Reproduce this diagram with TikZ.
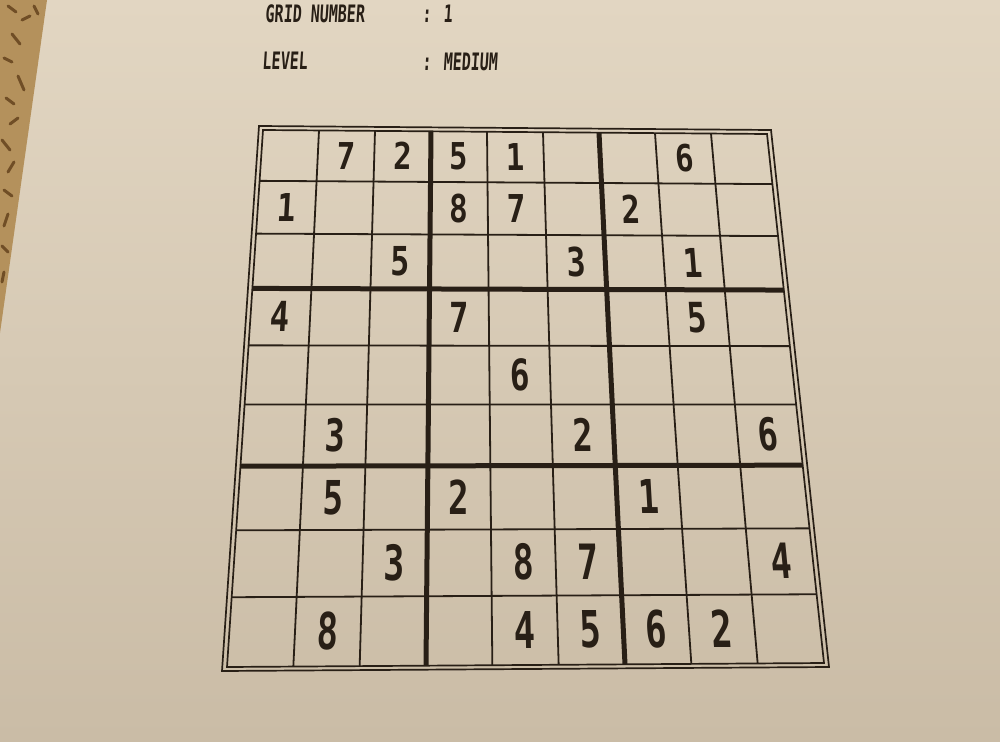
\documentclass[tikz,border=0pt]{standalone}
\usepackage{fontspec}
\usetikzlibrary{calc, math}
\newfontfamily\printfont{DejaVu Sans Mono}
\definecolor{paper}{RGB}{226,214,194}
\definecolor{paperdark}{RGB}{202,188,166}
\definecolor{ink}{RGB}{40,31,22}
\definecolor{carpet}{RGB}{180,145,92}
\definecolor{carpetdark}{RGB}{112,78,38}
\tikzset{
gridline/.style={draw=ink, line width=1.8pt},
blockline/.style={draw=ink, line width=5pt},
border/.style={draw=ink, line width=1.7pt},
digit/.style={text=ink, inner sep=0pt, font=\printfont\bfseries\fontsize{37}{37}\selectfont},
header/.style={text=ink, inner sep=0pt, anchor=base west, font=\printfont\bfseries\fontsize{15}{15}\selectfont, yscale=1.6, xslant=0.1, transform shape},
}
% one given number, row #1, column #2
\newcommand{\clue}[3]{%
  \pgfmathsetmacro{\cu}{(#2-0.5)/9}%
  \pgfmathsetmacro{\cv}{vpos((#1-0.5)/9)}%
  \coordinate (ctop) at ($(TL)!\cu!(TR)$);
  \coordinate (cbot) at ($(BL)!\cu!(BR)$);
  \node[digit, xslant={(36-93*\cu)/538}, xscale={0.82*(1+0.185*\cv)}, yscale={(0.991/(1-0.163*(#1-0.5)/9))^2}, transform shape]
    (d#1#2) at ($(ctop)!\cv!(cbot)$) {#3};
}

\begin{document}
\begin{tikzpicture}[x=1pt, y=-1pt, declare function={vpos(\t)=0.837*\t/(1-0.163*\t);}]
    \useasboundingbox (0,0) rectangle (1000,741);

    %paper and carpet
    \shade[top color=paper, bottom color=paperdark] (0,0) rectangle (1000,741);
    \begin{scope}
    \clip (0,0) -- (47,0) -- (0,333) -- cycle;
    \fill[carpet] (0,0) rectangle (50,340);
    \draw[carpetdark, line width=3pt, line cap=round]
        (8,6)--(16,12) (22,20)--(30,16) (12,34)--(20,44) (4,58)--(12,62)
        (18,76)--(24,90) (6,98)--(14,104) (10,124)--(18,118) (2,140)--(10,150)
        (14,162)--(8,172) (4,190)--(12,196) (8,214)--(4,226) (2,246)--(8,252)
        (4,272)--(2,282) (34,6)--(38,14);
    \end{scope}

    %header
    \node[header] (gridlabel)  at (265,23) {GRID NUMBER};
    \node[header] (gridvalue)  at (422,23) {: 1};
    \node[header] (levellabel) at (262,70) {LEVEL};
    \node[header] (levelvalue) at (422,71) {: MEDIUM};

    %corners of the grid
    \coordinate (TL)  at (263,130);
    \coordinate (TR)  at (767,134);
    \coordinate (BR)  at (824,663);
    \coordinate (BL)  at (227,667);
    \coordinate (oTL) at (259,126);
    \coordinate (oTR) at (771,130);
    \coordinate (oBR) at (829,667);
    \coordinate (oBL) at (222,671);

    %ends of the grid lines
    \foreach \i in {0,...,9} {
        \coordinate (top\i) at ($(TL)!{\i/9}!(TR)$);
        \coordinate (bot\i) at ($(BL)!{\i/9}!(BR)$);
        \coordinate (lft\i) at ($(TL)!{vpos(\i/9)}!(BL)$);
        \coordinate (rgt\i) at ($(TR)!{vpos(\i/9)}!(BR)$);
    }

    %cell lines
    \foreach \i in {1,2,4,5,7,8} {
        \draw[gridline] (top\i)--(bot\i);
        \draw[gridline] (lft\i)--(rgt\i);
    }

    %block lines
    \foreach \i in {3,6} {
        \draw[blockline] (top\i)--(bot\i);
        \draw[blockline] (lft\i)--(rgt\i);
    }

    %double border
    \draw[border] (TL)--(TR)--(BR)--(BL)--cycle;
    \draw[border] (oTL)--(oTR)--(oBR)--(oBL)--cycle;

    %given numbers
    \clue{1}{2}{7} \clue{1}{3}{2} \clue{1}{4}{5} \clue{1}{5}{1} \clue{1}{8}{6}
    \clue{2}{1}{1} \clue{2}{4}{8} \clue{2}{5}{7} \clue{2}{7}{2}
    \clue{3}{3}{5} \clue{3}{6}{3} \clue{3}{8}{1}
    \clue{4}{1}{4} \clue{4}{4}{7} \clue{4}{8}{5}
    \clue{5}{5}{6}
    \clue{6}{2}{3} \clue{6}{6}{2} \clue{6}{9}{6}
    \clue{7}{2}{5} \clue{7}{4}{2} \clue{7}{7}{1}
    \clue{8}{3}{3} \clue{8}{5}{8} \clue{8}{6}{7} \clue{8}{9}{4}
    \clue{9}{2}{8} \clue{9}{5}{4} \clue{9}{6}{5} \clue{9}{7}{6} \clue{9}{8}{2}

\end{tikzpicture}
\end{document}
